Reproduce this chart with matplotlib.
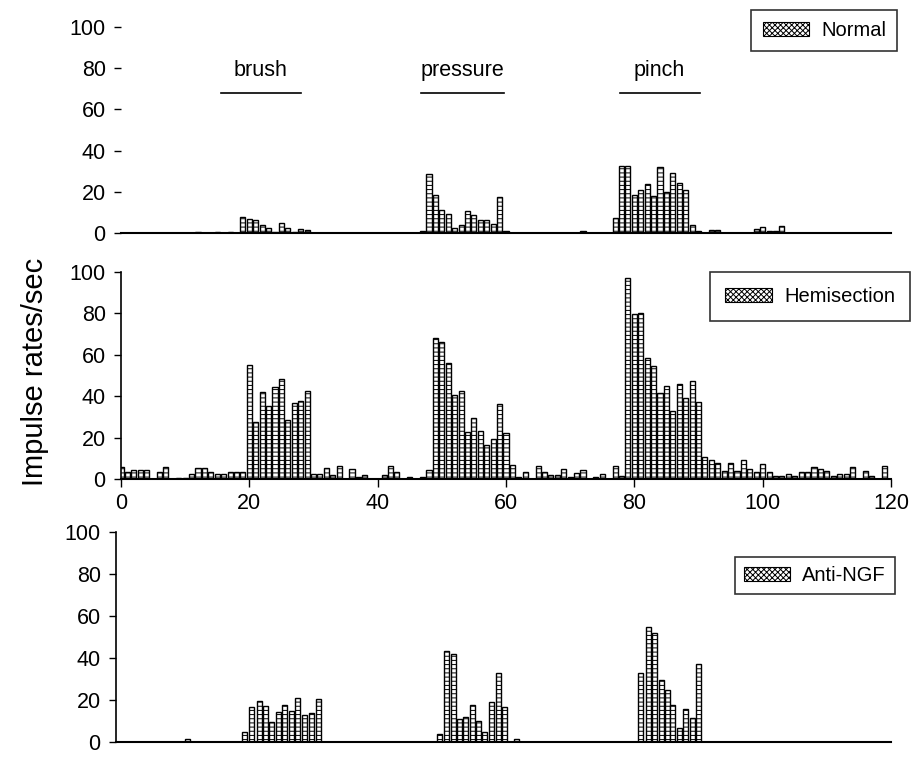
import numpy as np
import matplotlib
matplotlib.use("Agg")
import matplotlib.pyplot as plt
from matplotlib.patches import Patch

plt.rcParams['font.family'] = ['Liberation Sans', 'DejaVu Sans']
plt.rcParams['hatch.linewidth'] = 0.7

# Normal (top panel)
normal_t = [12, 15, 17, 19, 20, 21, 22, 23, 24, 25, 26, 27, 28, 29,
            47, 48, 49, 50, 51, 52, 53, 54, 55, 56, 57, 58, 59, 60,
            72, 77, 78, 79, 80, 81, 82, 83, 84, 85, 86, 87, 88, 89, 90,
            92, 93, 99, 100, 101, 102, 103]
normal_v = [0.4, 0.4, 0.4, 8, 6.6, 6.2, 3.7, 2.6, 0.5, 4.7, 2.6, 0.4, 1.8, 1.4,
            1, 28.5, 18.3, 11.3, 9.4, 2.6, 3.7, 10.8, 8.7, 6.5, 6.5, 4.2, 17.3, 1,
            1.1, 7.3, 32.7, 32.7, 18.6, 21, 24, 17.8, 32, 19.9, 29.1, 24.3, 21, 4, 1.1,
            1.3, 1.3, 2.1, 2.7, 0.8, 0.8, 3.6]

# Hemisection (middle panel), one value per second 0..119
hemi_v = [6, 3.2, 4.5, 4.5, 4.5, 0, 3.2, 5.6, 0, 0.3,
          0.3, 2.4, 5.2, 5.2, 3.2, 2.4, 2.4, 3.5, 3.5, 3.2,
          55.2, 27.4, 42.2, 35.4, 44.6, 48.3, 28.5, 36.6, 37.5, 42.4,
          2.4, 2.4, 5.3, 2, 6.1, 0, 4.8, 1, 2, 0,
          0, 2, 6.4, 3.4, 0, 1, 0, 1, 4.2, 68,
          66, 56, 40.7, 42.4, 22.5, 29.5, 23, 16.3, 19.3, 36,
          22.2, 7, 1, 3.4, 0, 6.1, 3.4, 1.8, 1.8, 4.8,
          1, 3, 4.3, 0, 0.8, 2.4, 0, 6.4, 1.6, 97,
          79.7, 80, 58.5, 54.6, 41.5, 44.8, 32.7, 45.7, 39, 47.5,
          37.4, 10.5, 9.3, 7.7, 4, 7.7, 4, 9.2, 4.8, 3.2,
          7.2, 3.2, 1.6, 1.6, 2.4, 1.5, 3.2, 3.2, 5.6, 4.8,
          4, 1.6, 2.4, 2.4, 5.6, 0, 4, 1.6, 0, 6.4]
hemi_t = list(range(len(hemi_v)))

# Anti-NGF (bottom panel)
ngf_t = [10.3, 19.2, 20.3, 21.5, 22.5, 23.4, 24.5, 25.5, 26.5, 27.5, 28.6, 29.6, 30.7,
         49.6, 50.7, 51.8, 52.7, 53.6, 54.8, 55.7, 56.6, 57.7, 58.8, 59.7, 61.7,
         81, 82.2, 83.2, 84.2, 85.2, 86, 87, 88, 89, 90]
ngf_v = [1.6, 4.7, 16.7, 19.7, 17.3, 9.6, 14.3, 17.6, 14.6, 20.9, 12.7, 13.8, 20.6,
         3.6, 43.2, 42.1, 11, 11.8, 17.8, 9.9, 4.7, 19, 32.7, 16.5, 1.6,
         32.7, 55, 51.9, 29.6, 24.8, 17.5, 6.8, 15.7, 11.2, 37]

stimuli = ['brush', 'pressure', 'pinch']
stim_start = [15.6, 46.7, 77.7]
stim_end = [28.0, 59.7, 90.2]

yticks = [0, 20, 40, 60, 80, 100]
xticks = [0, 20, 40, 60, 80, 100, 120]

W, H = 917, 757
fig = plt.figure(figsize=(W / 100, H / 100), dpi=100)


def px_axes(x0, x1, ytop, ybot):
    return fig.add_axes([x0 / W, 1 - ybot / H, (x1 - x0) / W, (ybot - ytop) / H])


ax_top = px_axes(121, 891, 27, 233)
ax_mid = px_axes(121, 891, 272, 479)
ax_bot = px_axes(116, 891, 532, 742)

panels = [(ax_top, normal_t, normal_v, 'Normal'),
          (ax_mid, hemi_t, hemi_v, 'Hemisection'),
          (ax_bot, ngf_t, ngf_v, 'Anti-NGF')]

for ax, t, v, name in panels:
    ax.bar(t, v, width=0.78, color='white', edgecolor='black',
           linewidth=1.0, hatch='----')
    ax.set_ylim(0, 100)
    ax.set_yticks(yticks)
    ax.tick_params(axis='y', labelsize=15.5, length=5, width=1, direction='out', pad=6)
    for s in ['top', 'right']:
        ax.spines[s].set_visible(False)
    ax.spines['left'].set_linewidth(1.2)
    ax.spines['bottom'].set_linewidth(1.5)

ax_top.set_xlim(0, 120)
ax_mid.set_xlim(0, 120)
ax_bot.set_xlim(-0.8, 120)
ax_top.spines['left'].set_visible(False)

for ax in (ax_top, ax_bot):
    ax.set_xticks([])

ax_mid.set_xticks(xticks)
ax_mid.tick_params(axis='x', labelsize=15.5, length=6, width=1, direction='out', pad=4)

# stimulus labels on the top panel
for name, a, b in zip(stimuli, stim_start, stim_end):
    ax_top.plot([a, b], [68, 68], color='black', lw=1.2, clip_on=False)
    ax_top.text((a + b) / 2, 74, name, ha='center', va='bottom', fontsize=15.5)

# legends: (axes, right edge px, top edge px, vertical pad)
leg_pos = {'Normal': (ax_top, 897, 10, 0.55),
           'Hemisection': (ax_mid, 910, 272, 0.75),
           'Anti-NGF': (ax_bot, 895, 557, 0.45)}
for ax, t, v, name in panels:
    lax, rx, ty, pad = leg_pos[name]
    h = Patch(facecolor='white', edgecolor='black', hatch='xxxxxx', linewidth=0.8)
    leg = lax.legend([h], [name], loc='upper right',
                     bbox_to_anchor=(rx / W, 1 - ty / H),
                     bbox_transform=fig.transFigure, fancybox=False, frameon=True,
                     fontsize=14.5, handlelength=2.3, handleheight=0.7,
                     borderpad=pad, handletextpad=0.6, borderaxespad=0)
    leg.get_frame().set_edgecolor('black')
    leg.get_frame().set_linewidth(1.2)

fig.text(35 / W, 1 - 372 / H, 'Impulse rates/sec', rotation=90,
         ha='center', va='center', fontsize=21)

fig.savefig('out.png', dpi=100)
